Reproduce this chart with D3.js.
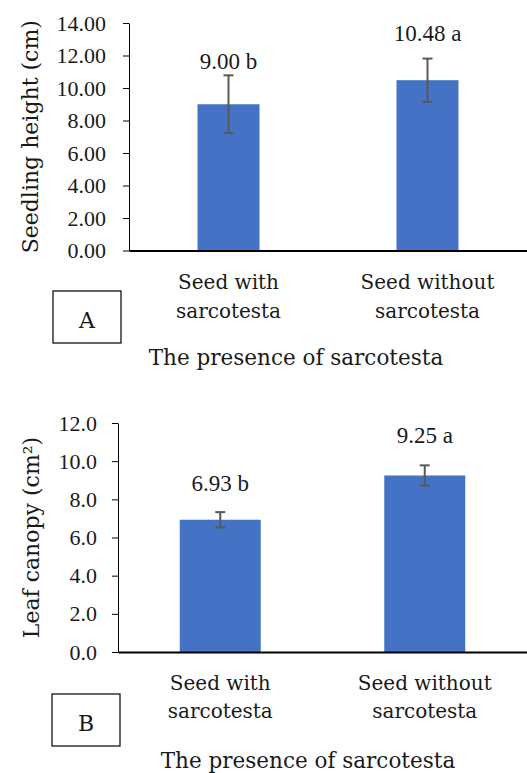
<!DOCTYPE html>
<html>
  <head>
    <meta charset="utf-8">
    <title>Sarcotesta seedling chart</title>
    <script src="https://d3js.org/d3.v7.min.js"></script>
    <style>
      body { margin: 0; background: #fff; }
    </style>
  </head>
  <body>
    <svg id="chart" width="527" height="773"></svg>
    <script>
      // data
      categories = [["Seed with", "sarcotesta"], ["Seed without", "sarcotesta"]];
      heightMeans = [9.00, 10.48];
      heightErrors = [1.78, 1.33];
      heightLabels = ["9.00 b", "10.48 a"];
      heightTicks = [0, 2, 4, 6, 8, 10, 12, 14];
      canopyMeans = [6.93, 9.25];
      canopyErrors = [0.40, 0.53];
      canopyLabels = ["6.93 b", "9.25 a"];
      canopyTicks = [0, 2, 4, 6, 8, 10, 12];
      xTitle = "The presence of sarcotesta";

      numFont = "'Liberation Serif', 'Times New Roman', serif";
      wordFont = "'DejaVu Serif', serif";
      ink = "#1a1a1a";

      svg = d3.select("#chart");

      // one panel per measure
      panels = [
        {
          means: heightMeans, errors: heightErrors, labels: heightLabels, ticks: heightTicks,
          format: ".2f", yMax: 14, yTitle: "Seedling height (cm)", letter: "A",
          left: 129, top: 23, bottom: 250.5, barWidth: 62, labelGap: [6, 18],
          tickPad: 17, yTitleX: 38, boxX: 53, boxY: 291, titleX: 296, titleY: 365, catY: 289, catStep: 29
        },
        {
          means: canopyMeans, errors: canopyErrors, labels: canopyLabels, ticks: canopyTicks,
          format: ".1f", yMax: 12, yTitle: "Leaf canopy (cm²)", letter: "B",
          left: 118, top: 423, bottom: 652, barWidth: 81, labelGap: [21, 22],
          tickPad: 15, yTitleX: 39, boxX: 52, boxY: 694, titleX: 308, titleY: 768, catY: 690, catStep: 28
        }
      ];

      panels.forEach(function(p) {
        var g = svg.append("g");
        var x = d3.scaleBand()
          .domain(d3.range(categories.length))
          .range([p.left, 527])
          .padding(0);
        var y = d3.scaleLinear()
          .domain([0, p.yMax])
          .range([p.bottom, p.top]);

        // bars
        g.selectAll(".bar")
          .data(p.means)
          .enter().append("rect")
            .attr("class", "bar")
            .attr("x", function(d, i) { return x(i) + x.bandwidth() / 2 - p.barWidth / 2; })
            .attr("width", p.barWidth)
            .attr("y", function(d) { return y(d); })
            .attr("height", function(d) { return y(0) - y(d); })
            .attr("fill", "#4472c4");

        // error bars
        var err = g.selectAll(".err")
          .data(p.means)
          .enter().append("g")
            .attr("class", "err")
            .attr("stroke", "#595959")
            .attr("stroke-width", 2);
        err.append("line")
          .attr("x1", function(d, i) { return x(i) + x.bandwidth() / 2; })
          .attr("x2", function(d, i) { return x(i) + x.bandwidth() / 2; })
          .attr("y1", function(d, i) { return y(d + p.errors[i]); })
          .attr("y2", function(d, i) { return y(d - p.errors[i]); });
        [1, -1].forEach(function(s) {
          err.append("line")
            .attr("x1", function(d, i) { return x(i) + x.bandwidth() / 2 - 5; })
            .attr("x2", function(d, i) { return x(i) + x.bandwidth() / 2 + 5; })
            .attr("y1", function(d, i) { return y(d + s * p.errors[i]); })
            .attr("y2", function(d, i) { return y(d + s * p.errors[i]); });
        });

        // value labels
        g.selectAll(".val")
          .data(p.labels)
          .enter().append("text")
            .attr("class", "val")
            .attr("x", function(d, i) { return x(i) + x.bandwidth() / 2; })
            .attr("y", function(d, i) { return y(p.means[i] + p.errors[i]) - p.labelGap[i]; })
            .attr("text-anchor", "middle")
            .style("font-family", numFont)
            .style("font-size", "23px")
            .style("fill", ink)
            .text(function(d) { return d; });

        // y axis
        var yAxis = d3.axisLeft(y)
          .tickValues(p.ticks)
          .tickFormat(d3.format(p.format))
          .tickSizeInner(6)
          .tickSizeOuter(0)
          .tickPadding(p.tickPad);
        var yg = g.append("g")
          .attr("transform", "translate(" + p.left + ",0)")
          .call(yAxis);
        yg.selectAll("path, line").attr("stroke", "#000");
        yg.selectAll("text")
          .style("font-family", numFont)
          .style("font-size", "22px")
          .style("fill", ink);

        // x axis line
        var xg = g.append("g")
          .attr("transform", "translate(0," + p.bottom + ")")
          .call(d3.axisBottom(x).tickSize(0).tickFormat(""));
        xg.select(".domain").attr("stroke", "#000").attr("stroke-width", 2);

        // category labels
        var cat = g.selectAll(".cat")
          .data(categories)
          .enter().append("text")
            .attr("class", "cat")
            .attr("text-anchor", "middle")
            .style("font-family", wordFont)
            .style("font-size", "20px")
            .style("fill", ink);
        cat.selectAll("tspan")
          .data(function(d, i) { return d.map(function(t) { return { t: t, i: i }; }); })
          .enter().append("tspan")
            .attr("x", function(d) { return x(d.i) + x.bandwidth() / 2; })
            .attr("y", function(d, j) { return p.catY + j * p.catStep; })
            .text(function(d) { return d.t; });

        // y title
        g.append("text")
          .attr("transform", "translate(" + p.yTitleX + "," + (p.top + p.bottom) / 2 + ") rotate(-90)")
          .attr("text-anchor", "middle")
          .style("font-family", wordFont)
          .style("font-size", "22px")
          .style("fill", ink)
          .text(p.yTitle);

        // x title
        g.append("text")
          .attr("x", p.titleX)
          .attr("y", p.titleY)
          .attr("text-anchor", "middle")
          .style("font-family", wordFont)
          .style("font-size", "21.5px")
          .style("fill", ink)
          .text(xTitle);

        // panel letter box
        g.append("rect")
          .attr("x", p.boxX)
          .attr("y", p.boxY)
          .attr("width", 68)
          .attr("height", 52)
          .attr("fill", "none")
          .attr("stroke", "#000")
          .attr("stroke-width", 1.2);
        g.append("text")
          .attr("x", p.boxX + 34)
          .attr("y", p.boxY + 37)
          .attr("text-anchor", "middle")
          .style("font-family", wordFont)
          .style("font-size", "22px")
          .style("fill", ink)
          .text(p.letter);
      });
    </script>
  </body>
</html>
